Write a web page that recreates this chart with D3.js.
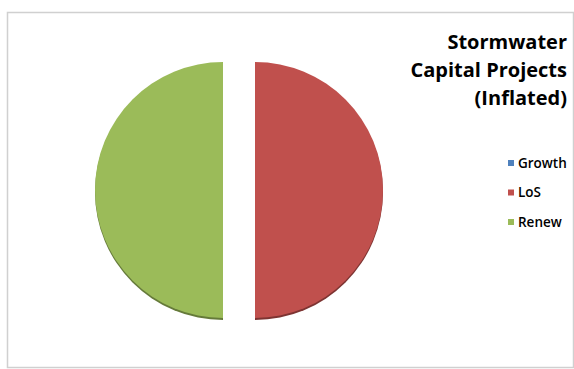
<!DOCTYPE html>
<html><head><meta charset="utf-8">
<script src="https://cdn.jsdelivr.net/npm/d3@7"></script>
<style>body{margin:0;background:#fff}svg{display:block}</style>
</head><body>
<script>
const categories = ["Growth", "LoS", "Renew"];
const values = [0, 50, 50];
const colors = ["#4F81BD", "#C0504D", "#9BBB59"];
const titleLines = ["Stormwater", "Capital Projects", "(Inflated)"];

const W = 574, H = 369;
const svg = d3.select("body").append("svg").attr("width", W).attr("height", H);

svg.append("rect").attr("x", 7.5).attr("y", 12.5).attr("width", 566).attr("height", 355)
  .attr("fill", "#fff").attr("stroke", "#d0d0d0").attr("stroke-width", 1.5);

const cx = 239, cy = 190, r = 128, explode = 16;
const pie = d3.pie().sort(null).value(d => d)(values);
const arc = d3.arc().innerRadius(0).outerRadius(r);
const shade = c => d3.color(c).darker(1.2);

const g = svg.append("g").attr("transform", `translate(${cx},${cy})`);
pie.forEach((p, i) => {
  if (p.endAngle - p.startAngle <= 0) return;
  const mid = (p.startAngle + p.endAngle) / 2;
  const dx = Math.sin(mid) * explode, dy = -Math.cos(mid) * explode;
  const sg = g.append("g").attr("transform", `translate(${dx},${dy})`);
  sg.append("path").attr("d", arc(p)).attr("fill", shade(colors[i])).attr("transform", "translate(0,2)");
  sg.append("path").attr("d", arc(p)).attr("fill", colors[i]);
});

const t = svg.append("text").attr("text-anchor", "end")
  .attr("font-family", "'Open Sans', sans-serif").attr("font-weight", "bold")
  .attr("font-size", 20).attr("fill", "#000");
const tys = [49, 77, 105];
titleLines.forEach((s, i) => t.append("tspan").attr("x", 567).attr("y", tys[i]).text(s));

const leg = svg.append("g");
categories.forEach((c, i) => {
  const y = 163 + i * 29.5;
  leg.append("rect").attr("x", 508).attr("y", y - 3).attr("width", 6).attr("height", 6).attr("fill", colors[i]);
  leg.append("text").attr("x", 518).attr("y", y + 4.5).attr("font-family", "'Open Sans', sans-serif")
    .attr("font-size", 13.5).attr("font-weight", 600).attr("fill", "#000").text(c);
});
</script>
</body></html>
